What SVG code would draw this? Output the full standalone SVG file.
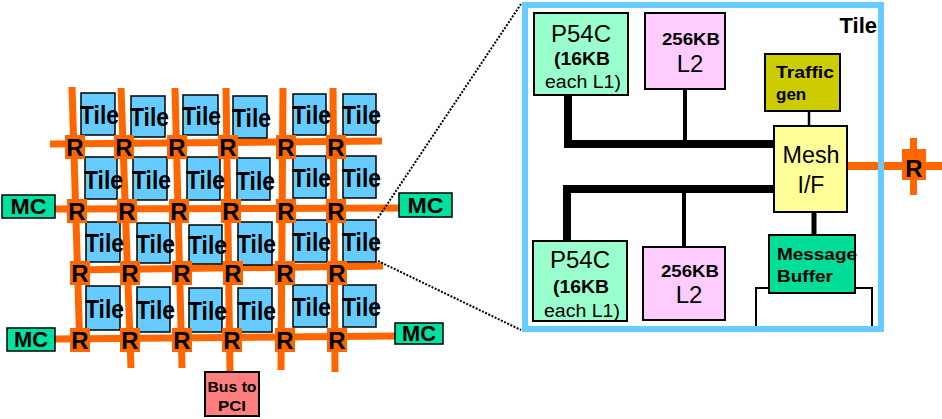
<svg xmlns="http://www.w3.org/2000/svg" width="942" height="419" viewBox="0 0 942 419">
<style>
.tile rect{fill:#66ccff;stroke:#000;stroke-width:1.5}
.tt{font-family:"Liberation Sans",Arial,sans-serif;font-weight:bold;font-size:25px;fill:#000}
.or{stroke:#ff6600;stroke-width:7;fill:none;stroke-linecap:butt}
.rbg{fill:#ff6600}
.rt{font-family:"Liberation Sans",Arial,sans-serif;font-weight:bold;font-size:24px;text-anchor:middle;fill:#000}
.mc rect{fill:#00e0a0;stroke:#000;stroke-width:1.5}
.mct{font-family:"Liberation Sans",Arial,sans-serif;font-weight:bold;font-size:22px;text-anchor:middle;fill:#000}
.box{stroke:#000;stroke-width:2}
.lbl{font-family:"Liberation Sans",Arial,sans-serif;fill:#000}
.c{text-anchor:middle}
.bus{stroke:#000;fill:none}
.dot{stroke:#000;stroke-width:2;stroke-dasharray:2 1.5;fill:none}
</style>
<rect width="942" height="419" fill="#fff"/>
<g id="connectors">
  <line class="or" x1="72" y1="87" x2="80" y2="352"/>
  <line class="or" x1="121" y1="88" x2="131" y2="368"/>
  <line class="or" x1="175" y1="88" x2="182" y2="368"/>
  <line class="or" x1="226" y1="88" x2="230" y2="373"/>
  <line class="or" x1="283" y1="88" x2="281" y2="370"/>
  <line class="or" x1="333" y1="88" x2="335" y2="372"/>
  <line class="or" x1="50" y1="144" x2="382" y2="141"/>
  <line class="or" x1="55" y1="209" x2="399" y2="208"/>
  <line class="or" x1="70" y1="270" x2="383" y2="266"/>
  <line class="or" x1="55" y1="339" x2="395" y2="336"/>
  <line class="dot" x1="378" y1="218" x2="521" y2="4"/>
  <line class="dot" x1="378" y1="261" x2="521" y2="330"/>
</g>
<g id="tiles">
  <g id="tile-1-1" class="tile"><rect x="81" y="93" width="34" height="42"/><text class="tt" x="80" y="124" textLength="39" lengthAdjust="spacingAndGlyphs">Tile</text></g>
  <g id="tile-1-2" class="tile"><rect x="131" y="96" width="34" height="41"/><text class="tt" x="130" y="126" textLength="39" lengthAdjust="spacingAndGlyphs">Tile</text></g>
  <g id="tile-1-3" class="tile"><rect x="183" y="95" width="35" height="40"/><text class="tt" x="182" y="125" textLength="39" lengthAdjust="spacingAndGlyphs">Tile</text></g>
  <g id="tile-1-4" class="tile"><rect x="233" y="96" width="34" height="42"/><text class="tt" x="232" y="127" textLength="39" lengthAdjust="spacingAndGlyphs">Tile</text></g>
  <g id="tile-1-5" class="tile"><rect x="293" y="94" width="33" height="41"/><text class="tt" x="292" y="124" textLength="39" lengthAdjust="spacingAndGlyphs">Tile</text></g>
  <g id="tile-1-6" class="tile"><rect x="343" y="94" width="33" height="41"/><text class="tt" x="342" y="124" textLength="39" lengthAdjust="spacingAndGlyphs">Tile</text></g>
  <g id="tile-2-1" class="tile"><rect x="85" y="157" width="32" height="42"/><text class="tt" x="84" y="189" textLength="39" lengthAdjust="spacingAndGlyphs">Tile</text></g>
  <g id="tile-2-2" class="tile"><rect x="133" y="157" width="34" height="43"/><text class="tt" x="132" y="189" textLength="39" lengthAdjust="spacingAndGlyphs">Tile</text></g>
  <g id="tile-2-3" class="tile"><rect x="187" y="157" width="33" height="43"/><text class="tt" x="186" y="189" textLength="39" lengthAdjust="spacingAndGlyphs">Tile</text></g>
  <g id="tile-2-4" class="tile"><rect x="237" y="158" width="33" height="42"/><text class="tt" x="236" y="190" textLength="39" lengthAdjust="spacingAndGlyphs">Tile</text></g>
  <g id="tile-2-5" class="tile"><rect x="293" y="156" width="33" height="42"/><text class="tt" x="292" y="187" textLength="39" lengthAdjust="spacingAndGlyphs">Tile</text></g>
  <g id="tile-2-6" class="tile"><rect x="343" y="156" width="33" height="42"/><text class="tt" x="342" y="187" textLength="39" lengthAdjust="spacingAndGlyphs">Tile</text></g>
  <g id="tile-3-1" class="tile"><rect x="86" y="222" width="34" height="40"/><text class="tt" x="85" y="252" textLength="39" lengthAdjust="spacingAndGlyphs">Tile</text></g>
  <g id="tile-3-2" class="tile"><rect x="137" y="223" width="33" height="40"/><text class="tt" x="136" y="253" textLength="39" lengthAdjust="spacingAndGlyphs">Tile</text></g>
  <g id="tile-3-3" class="tile"><rect x="189" y="225" width="33" height="39"/><text class="tt" x="188" y="254" textLength="39" lengthAdjust="spacingAndGlyphs">Tile</text></g>
  <g id="tile-3-4" class="tile"><rect x="238" y="222" width="34" height="43"/><text class="tt" x="237" y="253" textLength="39" lengthAdjust="spacingAndGlyphs">Tile</text></g>
  <g id="tile-3-5" class="tile"><rect x="293" y="220" width="34" height="42"/><text class="tt" x="292" y="251" textLength="39" lengthAdjust="spacingAndGlyphs">Tile</text></g>
  <g id="tile-3-6" class="tile"><rect x="343" y="220" width="33" height="42"/><text class="tt" x="342" y="251" textLength="39" lengthAdjust="spacingAndGlyphs">Tile</text></g>
  <g id="tile-4-1" class="tile"><rect x="86" y="286" width="34" height="44"/><text class="tt" x="85" y="318" textLength="39" lengthAdjust="spacingAndGlyphs">Tile</text></g>
  <g id="tile-4-2" class="tile"><rect x="137" y="287" width="33" height="45"/><text class="tt" x="136" y="319" textLength="39" lengthAdjust="spacingAndGlyphs">Tile</text></g>
  <g id="tile-4-3" class="tile"><rect x="189" y="288" width="33" height="44"/><text class="tt" x="188" y="320" textLength="39" lengthAdjust="spacingAndGlyphs">Tile</text></g>
  <g id="tile-4-4" class="tile"><rect x="238" y="288" width="34" height="44"/><text class="tt" x="237" y="320" textLength="39" lengthAdjust="spacingAndGlyphs">Tile</text></g>
  <g id="tile-4-5" class="tile"><rect x="293" y="285" width="34" height="42"/><text class="tt" x="292" y="316" textLength="39" lengthAdjust="spacingAndGlyphs">Tile</text></g>
  <g id="tile-4-6" class="tile"><rect x="343" y="285" width="33" height="42"/><text class="tt" x="342" y="316" textLength="39" lengthAdjust="spacingAndGlyphs">Tile</text></g>
</g>
<g id="routers">
  <g id="r-1-1"><rect class="rbg" x="65" y="135" width="20" height="24"/><text class="rt" x="75" y="156">R</text></g>
  <g id="r-1-2"><rect class="rbg" x="114" y="135" width="20" height="24"/><text class="rt" x="124" y="156">R</text></g>
  <g id="r-1-3"><rect class="rbg" x="167" y="135" width="20" height="24"/><text class="rt" x="177" y="156">R</text></g>
  <g id="r-1-4"><rect class="rbg" x="218" y="135" width="20" height="24"/><text class="rt" x="228" y="156">R</text></g>
  <g id="r-1-5"><rect class="rbg" x="276" y="135" width="20" height="24"/><text class="rt" x="286" y="156">R</text></g>
  <g id="r-1-6"><rect class="rbg" x="326" y="135" width="20" height="24"/><text class="rt" x="336" y="156">R</text></g>
  <g id="r-2-1"><rect class="rbg" x="67" y="199" width="20" height="24"/><text class="rt" x="77" y="220">R</text></g>
  <g id="r-2-2"><rect class="rbg" x="117" y="199" width="20" height="24"/><text class="rt" x="127" y="220">R</text></g>
  <g id="r-2-3"><rect class="rbg" x="169" y="199" width="20" height="24"/><text class="rt" x="179" y="220">R</text></g>
  <g id="r-2-4"><rect class="rbg" x="221" y="199" width="20" height="24"/><text class="rt" x="231" y="220">R</text></g>
  <g id="r-2-5"><rect class="rbg" x="276" y="199" width="20" height="24"/><text class="rt" x="286" y="220">R</text></g>
  <g id="r-2-6"><rect class="rbg" x="326" y="199" width="20" height="24"/><text class="rt" x="336" y="220">R</text></g>
  <g id="r-3-1"><rect class="rbg" x="70" y="261" width="20" height="24"/><text class="rt" x="80" y="282">R</text></g>
  <g id="r-3-2"><rect class="rbg" x="120" y="261" width="20" height="24"/><text class="rt" x="130" y="282">R</text></g>
  <g id="r-3-3"><rect class="rbg" x="172" y="261" width="20" height="24"/><text class="rt" x="182" y="282">R</text></g>
  <g id="r-3-4"><rect class="rbg" x="223" y="261" width="20" height="24"/><text class="rt" x="233" y="282">R</text></g>
  <g id="r-3-5"><rect class="rbg" x="275" y="261" width="20" height="24"/><text class="rt" x="285" y="282">R</text></g>
  <g id="r-3-6"><rect class="rbg" x="327" y="261" width="20" height="24"/><text class="rt" x="337" y="282">R</text></g>
  <g id="r-4-1"><rect class="rbg" x="70" y="328" width="20" height="24"/><text class="rt" x="80" y="349">R</text></g>
  <g id="r-4-2"><rect class="rbg" x="120" y="328" width="20" height="24"/><text class="rt" x="130" y="349">R</text></g>
  <g id="r-4-3"><rect class="rbg" x="172" y="328" width="20" height="24"/><text class="rt" x="182" y="349">R</text></g>
  <g id="r-4-4"><rect class="rbg" x="222" y="328" width="20" height="24"/><text class="rt" x="232" y="349">R</text></g>
  <g id="r-4-5"><rect class="rbg" x="275" y="328" width="20" height="24"/><text class="rt" x="285" y="349">R</text></g>
  <g id="r-4-6"><rect class="rbg" x="327" y="328" width="20" height="24"/><text class="rt" x="337" y="349">R</text></g>
</g>
<g id="mc-top-left" class="mc"><rect x="2" y="195" width="53" height="23"/><text class="mct" x="28.5" y="214" textLength="36" lengthAdjust="spacingAndGlyphs">MC</text></g>
<g id="mc-top-right" class="mc"><rect x="399" y="193" width="53" height="24"/><text class="mct" x="425.5" y="213" textLength="36" lengthAdjust="spacingAndGlyphs">MC</text></g>
<g id="mc-bottom-left" class="mc"><rect x="7" y="328" width="48" height="23"/><text class="mct" x="31" y="347" textLength="34" lengthAdjust="spacingAndGlyphs">MC</text></g>
<g id="mc-bottom-right" class="mc"><rect x="395" y="323" width="48" height="21"/><text class="mct" x="419" y="341" textLength="34" lengthAdjust="spacingAndGlyphs">MC</text></g>
<g id="bus-pci"><rect class="box" x="205" y="372" width="54" height="44" fill="#ff7f7f"/><text class="lbl c" x="232" y="392" font-size="15" font-weight="bold" textLength="49" lengthAdjust="spacingAndGlyphs">Bus to</text><text class="lbl c" x="232" y="411" font-size="15" font-weight="bold" textLength="28" lengthAdjust="spacingAndGlyphs">PCI</text></g>
<g id="tile-detail">
  <rect x="525" y="5" width="356" height="324" fill="#fff"/>
  <text class="lbl" x="877" y="33" font-size="22" font-weight="bold" text-anchor="end">Tile</text>
</g>
<g id="internal-connectors">
  <line class="bus" x1="564" y1="144" x2="775" y2="144" stroke-width="8"/>
  <line class="bus" x1="568" y1="95" x2="568" y2="148" stroke-width="8"/>
  <line class="bus" x1="685" y1="89" x2="685" y2="144" stroke-width="4"/>
  <line class="bus" x1="563" y1="189" x2="775" y2="189" stroke-width="8"/>
  <line class="bus" x1="567" y1="185" x2="567" y2="243" stroke-width="8"/>
  <line class="bus" x1="684" y1="189" x2="684" y2="247" stroke-width="4"/>
  <line class="bus" x1="809" y1="111" x2="809" y2="126" stroke-width="2.5"/>
  <line class="bus" x1="814" y1="212" x2="814" y2="235" stroke-width="5"/>
  <line class="or" x1="847" y1="166" x2="942" y2="166" style="stroke-width:8"/>
  <line class="or" x1="913.5" y1="138" x2="913.5" y2="195"/>
</g>
<g id="p54c-top"><rect class="box" x="534" y="13" width="94" height="82" fill="#99ffcc"/><text class="lbl c" x="581" y="42" font-size="24">P54C</text><text class="lbl c" x="582" y="65" font-size="18" font-weight="bold" textLength="56" lengthAdjust="spacingAndGlyphs">(16KB</text><text class="lbl c" x="583" y="88" font-size="18" textLength="76" lengthAdjust="spacingAndGlyphs">each L1)</text></g>
<g id="l2-top"><rect class="box" x="645" y="13" width="80" height="76" fill="#ffccff"/><text class="lbl c" x="691" y="45" font-size="17" font-weight="bold" textLength="58" lengthAdjust="spacingAndGlyphs">256KB</text><text class="lbl c" x="690" y="72" font-size="24">L2</text></g>
<g id="traffic-gen"><rect class="box" x="765" y="54" width="75" height="57" fill="#cccc00"/><text class="lbl" x="776" y="78" font-size="17" font-weight="bold" textLength="58" lengthAdjust="spacingAndGlyphs">Traffic</text><text class="lbl" x="776" y="100" font-size="17" font-weight="bold">gen</text></g>
<g id="mesh-if"><rect class="box" x="774" y="126" width="73" height="86" fill="#ffff99"/><text class="lbl c" x="811" y="163" font-size="23" textLength="57" lengthAdjust="spacingAndGlyphs">Mesh</text><text class="lbl c" x="811" y="193" font-size="23">I/F</text></g>
<g id="buffer-base"><path d="M756 329 V288 H872 V329" fill="#fff" stroke="#000" stroke-width="2"/></g>
<g id="message-buffer"><rect class="box" x="769" y="235" width="86" height="58" fill="#00dd99"/><text class="lbl" x="777" y="260" font-size="17" font-weight="bold" textLength="80" lengthAdjust="spacingAndGlyphs">Message</text><text class="lbl" x="777" y="282" font-size="17" font-weight="bold" textLength="56" lengthAdjust="spacingAndGlyphs">Buffer</text></g>
<g id="p54c-bottom"><rect class="box" x="533" y="241" width="94" height="80" fill="#99ffcc"/><text class="lbl c" x="580" y="268" font-size="24">P54C</text><text class="lbl c" x="581" y="293" font-size="18" font-weight="bold" textLength="56" lengthAdjust="spacingAndGlyphs">(16KB</text><text class="lbl c" x="582" y="317" font-size="18" textLength="76" lengthAdjust="spacingAndGlyphs">each L1)</text></g>
<g id="l2-bottom"><rect class="box" x="643" y="247" width="82" height="73" fill="#ffccff"/><text class="lbl c" x="690" y="277" font-size="17" font-weight="bold" textLength="58" lengthAdjust="spacingAndGlyphs">256KB</text><text class="lbl c" x="689" y="303" font-size="24">L2</text></g>
<g id="tile-detail-border"><rect x="525" y="5" width="356" height="324" fill="none" stroke="#66ccff" stroke-width="6"/></g>
<g id="router-right"><rect class="rbg" x="902" y="149" width="24" height="31"/><text class="rt" x="914" y="177">R</text></g>
</svg>
